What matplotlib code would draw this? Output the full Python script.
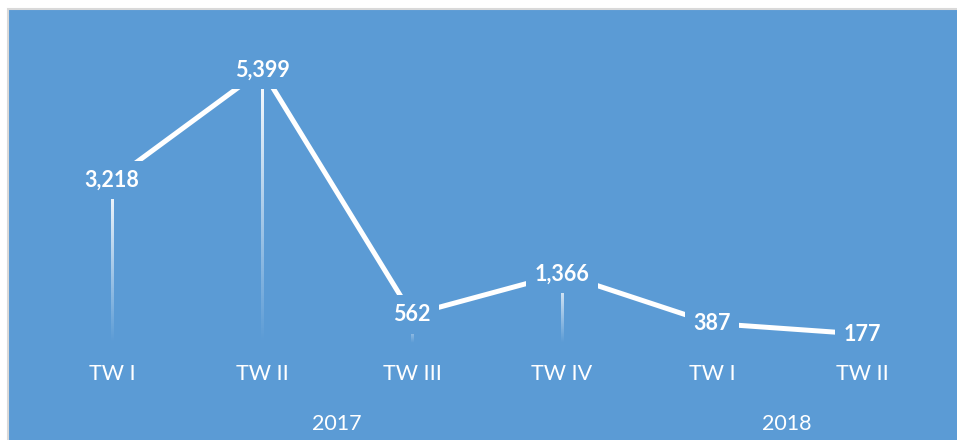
import numpy as np
import matplotlib
matplotlib.use("Agg")
import matplotlib.pyplot as plt
from matplotlib.patches import Rectangle

# data
quarters = ["TW I", "TW II", "TW III", "TW IV", "TW I", "TW II"]
values = [3218, 5399, 562, 1366, 387, 177]
years = ["2017", "2018"]
year_centers = [1.5, 4.5]   # middle of the quarters belonging to each year

bg = "#5B9BD5"
plt.rcParams["font.family"] = ["Lato", "DejaVu Sans"]

W, H = 957, 440
fig = plt.figure(figsize=(W / 100, H / 100), dpi=100)
fig.patch.set_facecolor("white")

# chart area with thin grey border (runs off the right and bottom edges)
fig.patches.append(Rectangle((8 / W, -0.05), 1.1, 1.05 - 9 / H, transform=fig.transFigure,
                             facecolor=bg, edgecolor="#D9D9D9", linewidth=1.5, zorder=-5))

# plot area placement (pixels): x index 0 -> 112, step 150; y 0 -> 343 from top
left = 37 / W
width = 900 / W
bottom = (H - 343) / H
height = 6000 * 0.05056 / H
ax = fig.add_axes([left, bottom, width, height])
ax.set_facecolor("none")
ax.set_xlim(-0.5, 5.5)
ax.set_ylim(0, 6000)
for s in ax.spines.values():
    s.set_visible(False)
ax.set_yticks([])

x = np.arange(len(values))

# drop lines: white fading to transparent towards the axis
grad = np.zeros((100, 1, 4))
grad[..., :3] = 1.0
grad[:, 0, 3] = np.linspace(1.0, 0.0, 100)
half_w = 1.3 / 150
for xi, v in zip(x, values):
    ax.imshow(grad, extent=[xi - half_w, xi + half_w, 0, v], origin="upper",
              aspect="auto", interpolation="bilinear", zorder=2)
ax.set_xlim(-0.5, 5.5)
ax.set_ylim(0, 6000)

ax.plot(x, values, color="white", linewidth=3.6, solid_capstyle="butt", zorder=3)

for xi, v in zip(x, values):
    ax.text(xi, v, f"{v:,}", ha="center", va="center", color="white",
            fontsize=15.5, fontweight="bold", zorder=5,
            bbox=dict(boxstyle="square,pad=0.4", facecolor=bg, edgecolor="none"))

ax.set_xticks(x)
ax.set_xticklabels(quarters, color="white", fontsize=15.5)
ax.tick_params(axis="x", length=0, pad=15)

for yc, yr in zip(year_centers, years):
    ax.annotate(yr, xy=(yc, 0), xycoords=("data", "axes fraction"),
                xytext=(0, -51), textcoords="offset points",
                ha="center", va="top", color="white", fontsize=15.5)

fig.savefig("out.png", dpi=100)
